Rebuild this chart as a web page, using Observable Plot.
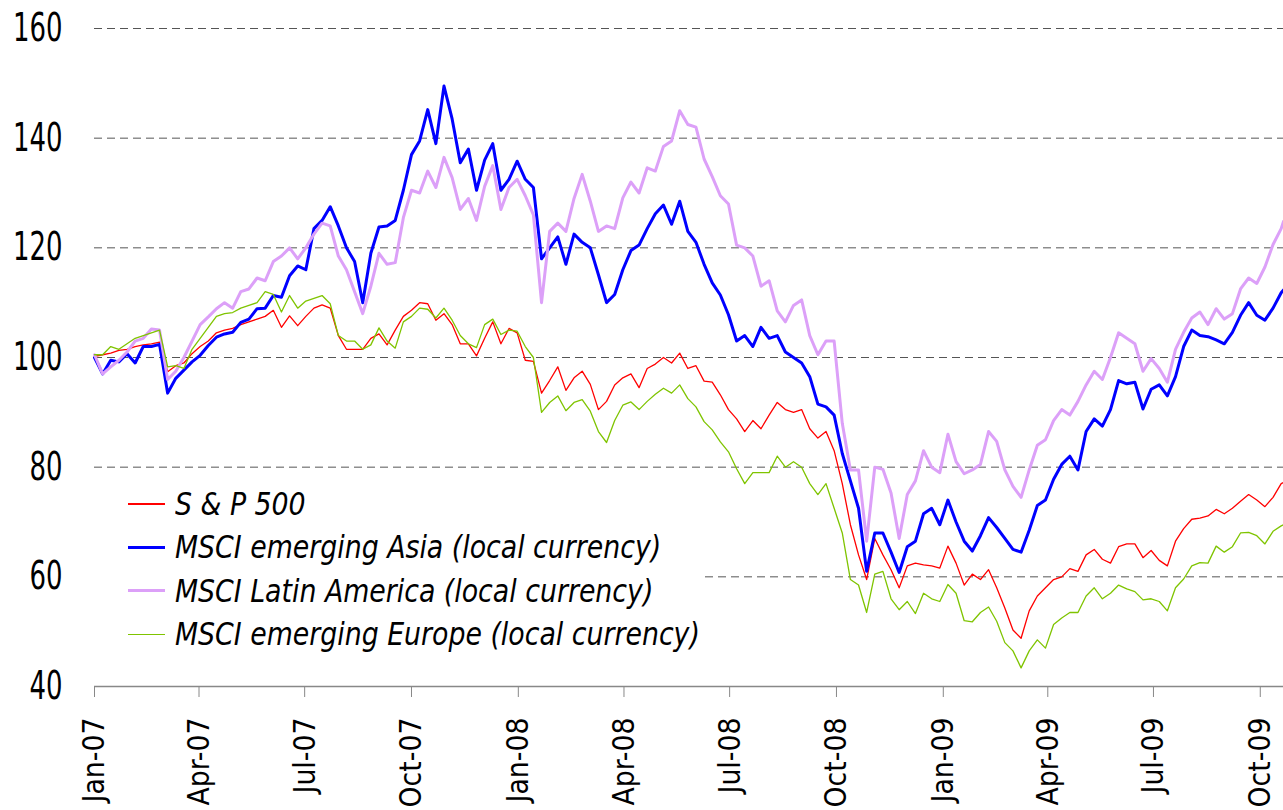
<!DOCTYPE html>
<html>
<head>
<meta charset="utf-8">
<script src="https://cdn.jsdelivr.net/npm/d3@7"></script>
<script src="https://cdn.jsdelivr.net/npm/@observablehq/plot@0.6"></script>
<style>
  html, body { margin: 0; padding: 0; background: #fff; }
  #wrap { position: relative; width: 1283px; height: 810px; overflow: hidden; }
  #legend { position: absolute; left: 94px; top: 482px; width: 610px; height: 176px; background: #fff;
            padding-left: 34px; box-sizing: border-box; overflow: visible;
            font-family: 'DejaVu Sans Condensed', 'Liberation Sans Narrow', sans-serif;
            font-style: italic; font-size: 32px; color: #000; }
  .row { height: 43.5px; display: flex; align-items: center; white-space: nowrap; }
  .sw { display: inline-block; flex: 0 0 37px; width: 37px; margin-right: 10px; }
  .lt { display: inline-block; transform: scaleX(0.93); transform-origin: left center; }
</style>
</head>
<body>
<div id="wrap"><div id="legend"></div></div>
<script>
const weeks = [
"2007-01-01","2007-01-08","2007-01-15","2007-01-22","2007-01-29","2007-02-05","2007-02-12","2007-02-19","2007-02-26",
"2007-03-05","2007-03-12","2007-03-19","2007-03-26","2007-04-02","2007-04-09","2007-04-16","2007-04-23","2007-04-30",
"2007-05-07","2007-05-14","2007-05-21","2007-05-28","2007-06-04","2007-06-11","2007-06-18","2007-06-25",
"2007-07-02","2007-07-09","2007-07-16","2007-07-23","2007-07-30","2007-08-06","2007-08-13","2007-08-20","2007-08-27",
"2007-09-03","2007-09-10","2007-09-17","2007-09-24","2007-10-01","2007-10-08","2007-10-15","2007-10-22","2007-10-29",
"2007-11-05","2007-11-12","2007-11-19","2007-11-26","2007-12-03","2007-12-10","2007-12-17","2007-12-24","2007-12-31",
"2008-01-07","2008-01-14","2008-01-21","2008-01-28","2008-02-04","2008-02-11","2008-02-18","2008-02-25",
"2008-03-03","2008-03-10","2008-03-17","2008-03-24","2008-03-31","2008-04-07","2008-04-14","2008-04-21","2008-04-28",
"2008-05-05","2008-05-12","2008-05-19","2008-05-26","2008-06-02","2008-06-09","2008-06-16","2008-06-23","2008-06-30",
"2008-07-07","2008-07-14","2008-07-21","2008-07-28","2008-08-04","2008-08-11","2008-08-18","2008-08-25",
"2008-09-01","2008-09-08","2008-09-15","2008-09-22","2008-09-29","2008-10-06","2008-10-13","2008-10-20","2008-10-27",
"2008-11-03","2008-11-10","2008-11-17","2008-11-24","2008-12-01","2008-12-08","2008-12-15","2008-12-22","2008-12-29",
"2009-01-05","2009-01-12","2009-01-19","2009-01-26","2009-02-02","2009-02-09","2009-02-16","2009-02-23",
"2009-03-02","2009-03-09","2009-03-16","2009-03-23","2009-03-30","2009-04-06","2009-04-13","2009-04-20","2009-04-27",
"2009-05-04","2009-05-11","2009-05-18","2009-05-25","2009-06-01","2009-06-08","2009-06-15","2009-06-22","2009-06-29",
"2009-07-06","2009-07-13","2009-07-20","2009-07-27","2009-08-03","2009-08-10","2009-08-17","2009-08-24","2009-08-31",
"2009-09-07","2009-09-14","2009-09-21","2009-09-28","2009-10-05","2009-10-12","2009-10-19","2009-10-21"
];

const sp500 = [
100.2,100.5,100.8,101.3,101.5,102,102.3,102.5,102.8,97.4,98.5,99,100.7,102,103,104.5,105,105.3,106,106.5,107,107.5,108.6,105.5,107.6,105.8,107.5,
109,109.6,109,104,101.5,101.5,101.5,103.5,104.3,102.3,105,107.5,108.6,110,109.8,106.8,108,106,102.5,102.5,100.3,103.5,106.5,102.5,105.3,104.5,
99.5,99.3,93.5,95.8,98.3,94,96.3,97.5,95.1,90.5,92,95,96.3,97,94.5,98,98.8,100,99,100.8,98,98.5,95.7,95.5,93.2,90.5,
88.8,86.5,88.5,87,89.5,91.8,90.5,90,90.5,87,85.3,86.5,83,77,69.5,64,59.5,67,64,61.3,58,62,62.5,
62.2,62,61.6,65.6,62.5,58.5,60.5,59.5,61.3,58,54.3,50.3,48.8,53.8,56.5,58,59.5,60,61.5,61,64,65,
63.2,62.5,65.5,66,66,63.5,64.8,63,62,66.5,68.8,70.5,70.7,71.1,72.3,71.5,72.5,73.8,75,74,72.8,74.5,77,77.2
];

const asia = [
100,97,99.5,99.2,100.7,99,102,102,102.4,93.5,96.2,97.7,99.2,100.4,102.2,103.7,104.3,104.6,106.4,107,108.9,109,111.3,111,114.9,116.7,116,
123.5,125,127.5,124,120,117.5,110,119,123.8,124,125,130.5,137,139.5,145.2,139,149.5,143.5,135.5,138,130.5,136,139,130.5,132.5,135.8,
132.5,131,118,120,122,117,122.5,121,120,115.1,110,111.5,116,119.5,120.5,123.5,126.2,127.8,124.3,128.5,123,121,117,113.6,111.4,107.8,
103,104,102,105.5,103.5,104,101,100,99,96.5,91.5,91,89.5,82.5,77.5,72.5,61,68,68,64.5,60.8,65.5,66.5,
71.5,72.5,69.5,74,70,66.5,64.7,67.5,70.8,69,67,65,64.5,68.5,73,74,77.8,80.5,82,79.5,86.5,88.8,
87.5,90.5,95.8,95.2,95.5,90.6,94.2,95,93,96.5,102,105,104,103.8,103.2,102.5,104.6,107.7,110,107.7,106.8,109,111.8,112.3
];

const latam = [
100.5,97,98.3,99.5,101,103,103.5,105.2,105,96,97.5,100,103,106,107.4,108.9,110,109,112,112.5,114.5,114,117.5,118.5,120,118,120,
122.5,124.5,124,118.5,116,112,108,113,119,117,117.3,125.5,130.5,130,134,131,136.5,132.8,127,129,125,131.2,135,127,131,132.5,
129.5,126,110,123,124.5,123,129,133.4,128.5,123,124,123.5,129.1,132,130,134.6,134,138.5,139.5,145,142.5,142,136.2,133,129.5,128,
120.5,120,118.5,113,114,108.5,106.5,109.5,110.5,104,100.5,103,103,88,79.5,79.5,66.5,80,79.6,75.3,67,75,77.5,
83,80,79,86,81,78.8,79.5,80.5,86.5,84.7,79.5,76.5,74.5,79.5,84,85,88.5,90.5,89.5,92,95,97.5,
96,100,104.5,103.5,102.5,97.5,99.8,98,95.5,101.5,104.6,107.2,108.3,106,108.9,107,108,112.5,114.5,113.5,116.5,120.6,123.5,124.8
];

const europe = [
100.5,100.5,102,101.5,102.5,103.5,104,104.5,105,98.3,98.5,98,101.5,103.5,105.5,107.5,108,108.2,109,109.5,110,112,111.5,108.3,111.3,109,110.3,
110.8,111.3,109.8,104,103,103,101.5,102.3,105.4,103,101.7,106.5,107.5,109,108.8,107.2,109,106.8,104,102.5,101.8,106,107,104.2,105,104.8,
102,100,90,91.8,93,90.3,91.8,92.3,90.2,86.5,84.5,88.5,91.3,91.9,90.5,92,93.3,94.4,93.5,95,92.5,91,88.3,86.8,84.6,82.8,
79.7,77,79,79,79,82,80,81,80,77,75,77,72.5,68,59.5,58.5,53.5,60.5,61,56,54,55.5,53.3,
57,56,55.5,58.6,57,52,51.8,53.5,54.5,51.9,48,46.5,43.4,46.5,48.5,47,51.3,52.5,53.5,53.5,56.5,58,
56,57,58.5,57.8,57.3,55.8,56,55.5,53.8,58,59.6,62,62.6,62.5,65.6,64.5,65.5,68,68.1,67.5,66,68.3,69.3,69.5
];

const seriesNames = ["S & P 500", "MSCI emerging Asia (local currency)", "MSCI Latin America (local currency)", "MSCI emerging Europe (local currency)"];
const seriesValues = [sp500, asia, latam, europe];
const seriesColors = ["#ff0000", "#0000ff", "#dca0f8", "#7fc400"];
const seriesWidths = [1.3, 3, 3, 1.3];

const xTickDates = ["2007-01-01","2007-04-01","2007-07-01","2007-10-01","2008-01-01","2008-04-01","2008-07-01","2008-10-01","2009-01-01","2009-04-01","2009-07-01","2009-10-01"];
const xTickLabels = ["Jan-07","Apr-07","Jul-07","Oct-07","Jan-08","Apr-08","Jul-08","Oct-08","Jan-09","Apr-09","Jul-09","Oct-09"];
const yTicks = [40, 60, 80, 100, 120, 140, 160];
const gridLines = [60, 80, 100, 120, 140, 160];

const parse = d3.utcParse("%Y-%m-%d");
const dates = weeks.map(parse);
const tickDates = xTickDates.map(parse);
const labelMap = new Map(tickDates.map((d, i) => [+d, xTickLabels[i]]));

const fontFamily = "'DejaVu Sans Condensed', 'Liberation Sans Narrow', sans-serif";

const lineMarks = seriesNames.map((name, s) =>
  Plot.line(dates.map((d, i) => ({date: d, value: seriesValues[s][i]})), {
    x: "date", y: "value", stroke: seriesColors[s], strokeWidth: seriesWidths[s], strokeLinejoin: "round"
  })
);

const chart = Plot.plot({
  width: 1283,
  height: 810,
  marginTop: 28,
  marginBottom: 124,
  marginLeft: 94,
  marginRight: 0,
  style: {fontFamily, background: "white", overflow: "visible", color: "black"},
  x: {type: "utc", domain: [parse("2007-01-01"), parse("2009-10-21")]},
  y: {domain: [40, 160]},
  marks: [
    Plot.ruleY(gridLines, {stroke: "#555", strokeDasharray: "8,5", strokeWidth: 1}),
    Plot.axisY({ticks: yTicks, tickSize: 0, tickPadding: 32, fontSize: 39, label: null}),
    Plot.axisX({ticks: tickDates, tickFormat: d => labelMap.get(+d), tickRotate: -90, tickSize: 11,
                tickPadding: 20, fontSize: 31, stroke: "#888", label: null}),
    Plot.ruleY([40], {stroke: "#888", strokeWidth: 1.5}),
    ...lineMarks
  ]
});
document.getElementById("wrap").prepend(chart);

// narrow the tick label glyphs to match the condensed typeface of the original
chart.querySelectorAll('g[aria-label="y-axis tick label"] text').forEach(t => {
  const tr = t.getAttribute("transform") || "";
  t.setAttribute("transform", tr + " scale(0.74,1)");
});
chart.querySelectorAll('g[aria-label="x-axis tick label"] text').forEach(t => {
  const tr = t.getAttribute("transform") || "";
  t.setAttribute("transform", tr + " scale(0.96,1)");
});

const legend = document.getElementById("legend");
seriesNames.forEach((name, s) => {
  const row = document.createElement("div");
  row.className = "row";
  const sw = document.createElement("span");
  sw.className = "sw";
  sw.style.height = (s === 1 || s === 2 ? 3 : 1.5) + "px";
  sw.style.background = seriesColors[s];
  const t = document.createElement("span");
  t.className = "lt";
  t.textContent = name;
  row.appendChild(sw);
  row.appendChild(t);
  legend.appendChild(row);
});
</script>
</body>
</html>
